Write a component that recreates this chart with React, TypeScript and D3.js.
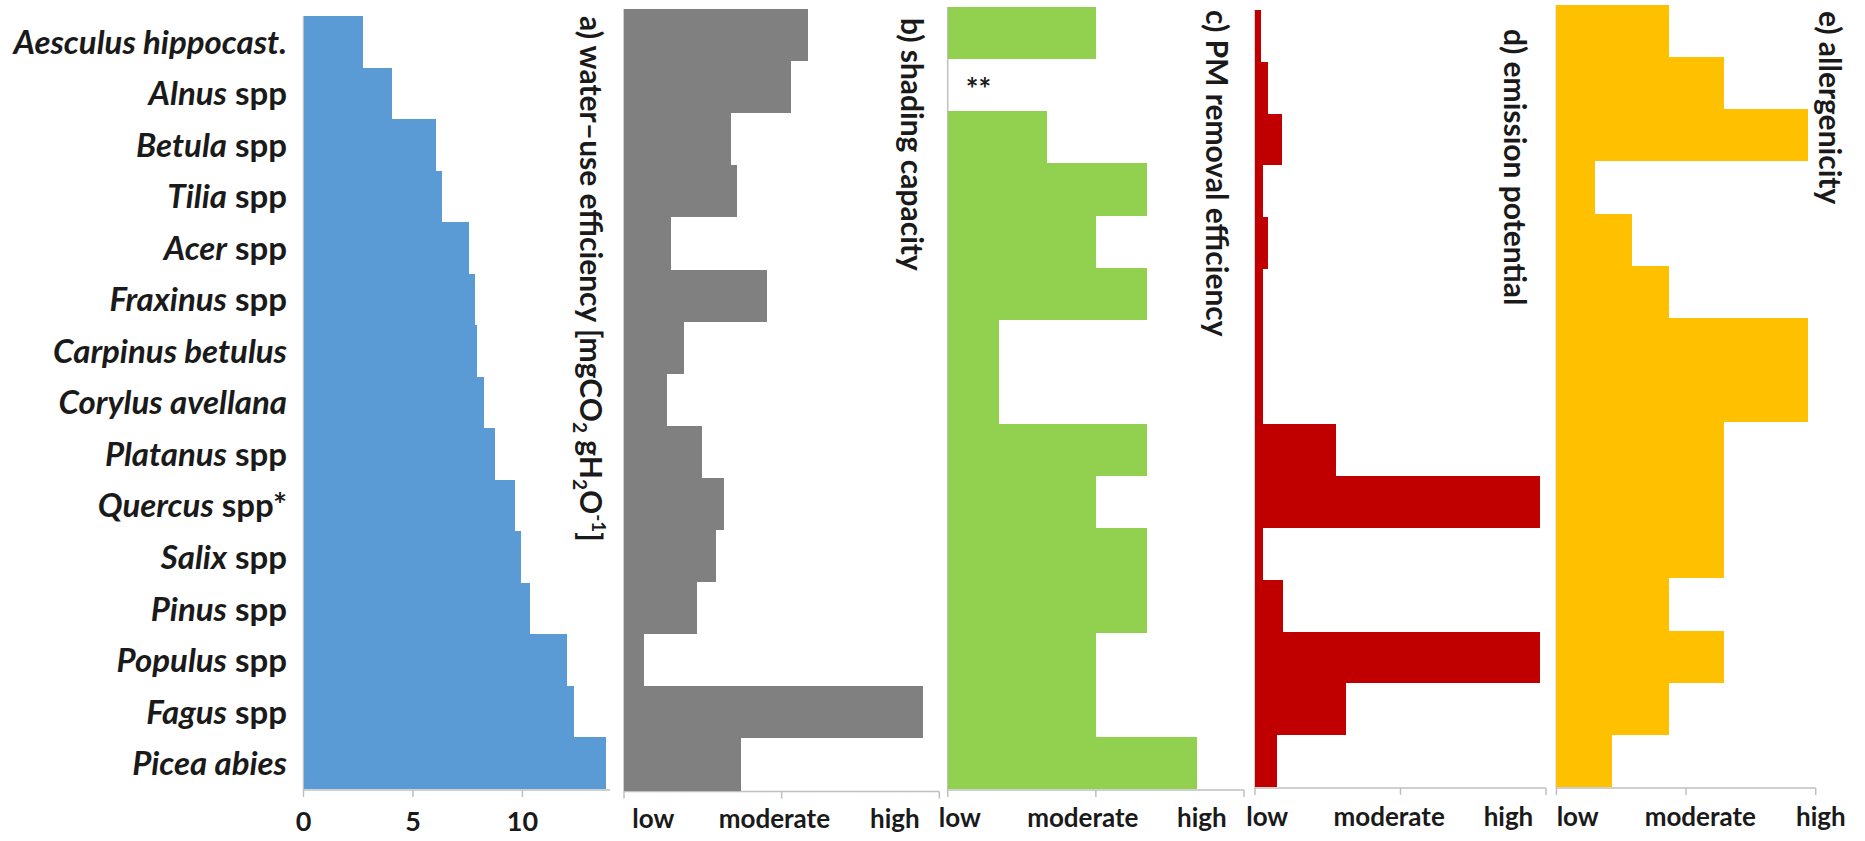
import React, { useEffect, useRef } from "react";
import * as d3 from "d3";

// species, top to bottom
const genusNames = [
  "Aesculus hippocast.", "Alnus", "Betula", "Tilia", "Acer", "Fraxinus",
  "Carpinus betulus", "Corylus avellana", "Platanus", "Quercus", "Salix",
  "Pinus", "Populus", "Fagus", "Picea abies",
];
const nameSuffixes = [
  "", " spp", " spp", " spp", " spp", " spp", "", "", " spp", " spp*",
  " spp", " spp", " spp", " spp", "",
];

// a) water-use efficiency [mgCO2 gH2O-1]
const wueValues = [2.71, 4.04, 6.05, 6.32, 7.54, 7.82, 7.94, 8.23, 8.74, 9.64, 9.93, 10.34, 12.02, 12.35, 13.8];
// b)-e) on a low..high scale (0..1)
const shadingValues = [0.585, 0.53, 0.338, 0.358, 0.148, 0.455, 0.191, 0.135, 0.246, 0.318, 0.292, 0.23, 0.062, 0.948, 0.372];
const pmValues = [0.5, null, 0.336, 0.673, 0.5, 0.673, 0.172, 0.172, 0.673, 0.5, 0.673, 0.673, 0.5, 0.5, 0.841];
const emissionValues = [0.02, 0.046, 0.094, 0.026, 0.046, 0.029, 0.029, 0.026, 0.278, 0.979, 0.028, 0.095, 0.979, 0.313, 0.077];
const allergenValues = [0.434, 0.648, 0.969, 0.147, 0.291, 0.434, 0.969, 0.969, 0.648, 0.648, 0.648, 0.434, 0.648, 0.434, 0.214];

const wueTicks = [0, 5, 10];
const levelTicks = [0, 0.5, 1];
const levelLabels = ["low", "moderate", "high"];

const FONT = "Lato, 'Open Sans', sans-serif";
const AXIS = "#bfbfbf";
const INK = "#1a1a1a";

const panels = [
  { key: "a", values: wueValues, color: "#5b9bd5", x0: 303.5, x1: 610, top: 16, bottom: 789, domain: [0, 14],
    title: "a) water–use efficiency [mgCO", titleX: 580, titleY: 16, labelPos: null, labelY: 831 },
  { key: "b", values: shadingValues, color: "#808080", x0: 624, x1: 939.3, top: 9, bottom: 790.5, domain: [0, 1],
    title: "b) shading capacity", titleX: 901, titleY: 18, labelPos: [0.093, 0.477, 0.859], labelY: 828 },
  { key: "c", values: pmValues, color: "#92d050", x0: 947.7, x1: 1244, top: 7, bottom: 789, domain: [0, 1],
    title: "c) PM removal efficiency", titleX: 1206, titleY: 10, labelPos: [0.041, 0.456, 0.858], labelY: 827 },
  { key: "d", values: emissionValues, color: "#c00000", x0: 1255, x1: 1546, top: 10, bottom: 787, domain: [0, 1],
    title: "d) emission potential", titleX: 1504, titleY: 29, labelPos: [0.042, 0.461, 0.871], labelY: 826 },
  { key: "e", values: allergenValues, color: "#ffc000", x0: 1556.4, x1: 1815.7, top: 5, bottom: 787, domain: [0, 1],
    title: "e) allergenicity", titleX: 1819, titleY: 11, labelPos: [0.082, 0.555, 1.02], labelY: 826 },
];

export default function App() {
  const ref = useRef<SVGSVGElement>(null);

  useEffect(() => {
    const svg = d3.select(ref.current);
    svg.selectAll("*").remove();

    panels.forEach((p) => {
      const x = d3.scaleLinear().domain(p.domain).range([p.x0, p.x1]);
      const y = d3.scaleBand().domain(genusNames).range([p.top, p.bottom]).padding(0);
      const g = svg.append("g");

      // axis lines
      g.append("line").attr("x1", p.x0).attr("x2", p.x0).attr("y1", p.top).attr("y2", p.bottom + 1)
        .attr("stroke", AXIS).attr("stroke-width", 1.5);
      g.append("line").attr("x1", p.x0).attr("x2", p.x1).attr("y1", p.bottom + 1).attr("y2", p.bottom + 1)
        .attr("stroke", AXIS).attr("stroke-width", 1.5);
      const ticks = p.key === "a" ? wueTicks : levelTicks;
      g.selectAll(".tick").data(ticks).enter().append("line")
        .attr("x1", (d) => x(d)).attr("x2", (d) => x(d))
        .attr("y1", p.bottom + 1).attr("y2", p.bottom + 8)
        .attr("stroke", AXIS).attr("stroke-width", 1.5);

      // bars
      g.selectAll(".bar").data(p.values.map((v, i) => ({ v, name: genusNames[i] })).filter((d) => d.v != null))
        .enter().append("rect")
        .attr("x", p.x0)
        .attr("y", (d) => y(d.name))
        .attr("width", (d) => x(d.v) - p.x0)
        .attr("height", y.bandwidth())
        .attr("shape-rendering", "crispEdges")
        .attr("fill", p.color);

      // tick labels
      if (p.key === "a") {
        g.selectAll(".tl").data(wueTicks).enter().append("text")
          .attr("x", (d) => x(d)).attr("y", p.labelY)
          .attr("text-anchor", "middle")
          .attr("font-family", FONT).attr("font-weight", "bold").attr("font-size", 27)
          .attr("fill", INK)
          .text((d) => d);
      } else {
        g.selectAll(".tl").data(levelLabels).enter().append("text")
          .attr("x", (d, i) => x(p.labelPos[i])).attr("y", p.labelY)
          .attr("text-anchor", "middle")
          .attr("font-family", FONT).attr("font-weight", "bold").attr("font-size", 26)
          .attr("fill", INK)
          .text((d) => d);
      }

      // rotated panel title
      const t = g.append("text")
        .attr("transform", `translate(${p.titleX},${p.titleY}) rotate(90)`)
        .attr("font-family", FONT).attr("font-weight", "bold").attr("font-size", 30)
        .attr("fill", INK);
      t.append("tspan").text(p.title);
      if (p.key === "a") {
        t.append("tspan").attr("dy", 7).attr("font-size", 19).text("2");
        t.append("tspan").attr("dy", -7).text(" gH");
        t.append("tspan").attr("dy", 7).attr("font-size", 19).text("2");
        t.append("tspan").attr("dy", -7).text("O");
        t.append("tspan").attr("dy", -12).attr("font-size", 19).text("-1");
        t.append("tspan").attr("dy", 12).text("]");
      }

      // missing value marker
      if (p.key === "c") {
        p.values.forEach((v, i) => {
          if (v == null) {
            g.append("text")
              .attr("x", p.x0 + 18).attr("y", y(genusNames[i])! + y.bandwidth() / 2 + 15)
              .attr("font-family", FONT).attr("font-weight", "bold").attr("font-size", 30)
              .attr("fill", INK)
              .text("**");
          }
        });
      }

      // species labels on the first panel
      if (p.key === "a") {
        const lab = svg.append("g").selectAll("text").data(genusNames).enter().append("text")
          .attr("x", 287)
          .attr("y", (d) => y(d)! + y.bandwidth() / 2)
          .attr("dy", "0.36em")
          .attr("text-anchor", "end")
          .attr("font-family", FONT).attr("font-weight", "bold").attr("font-size", 33)
          .attr("fill", INK);
        lab.append("tspan").attr("font-style", "italic").text((d) => d);
        lab.append("tspan").text((d, i) => nameSuffixes[i]);
      }
    });
  }, []);

  return (
    <svg
      ref={ref}
      width={1865}
      height={841}
      style={{ position: "absolute", left: 0, top: 0, background: "#fff" }}
    />
  );
}
